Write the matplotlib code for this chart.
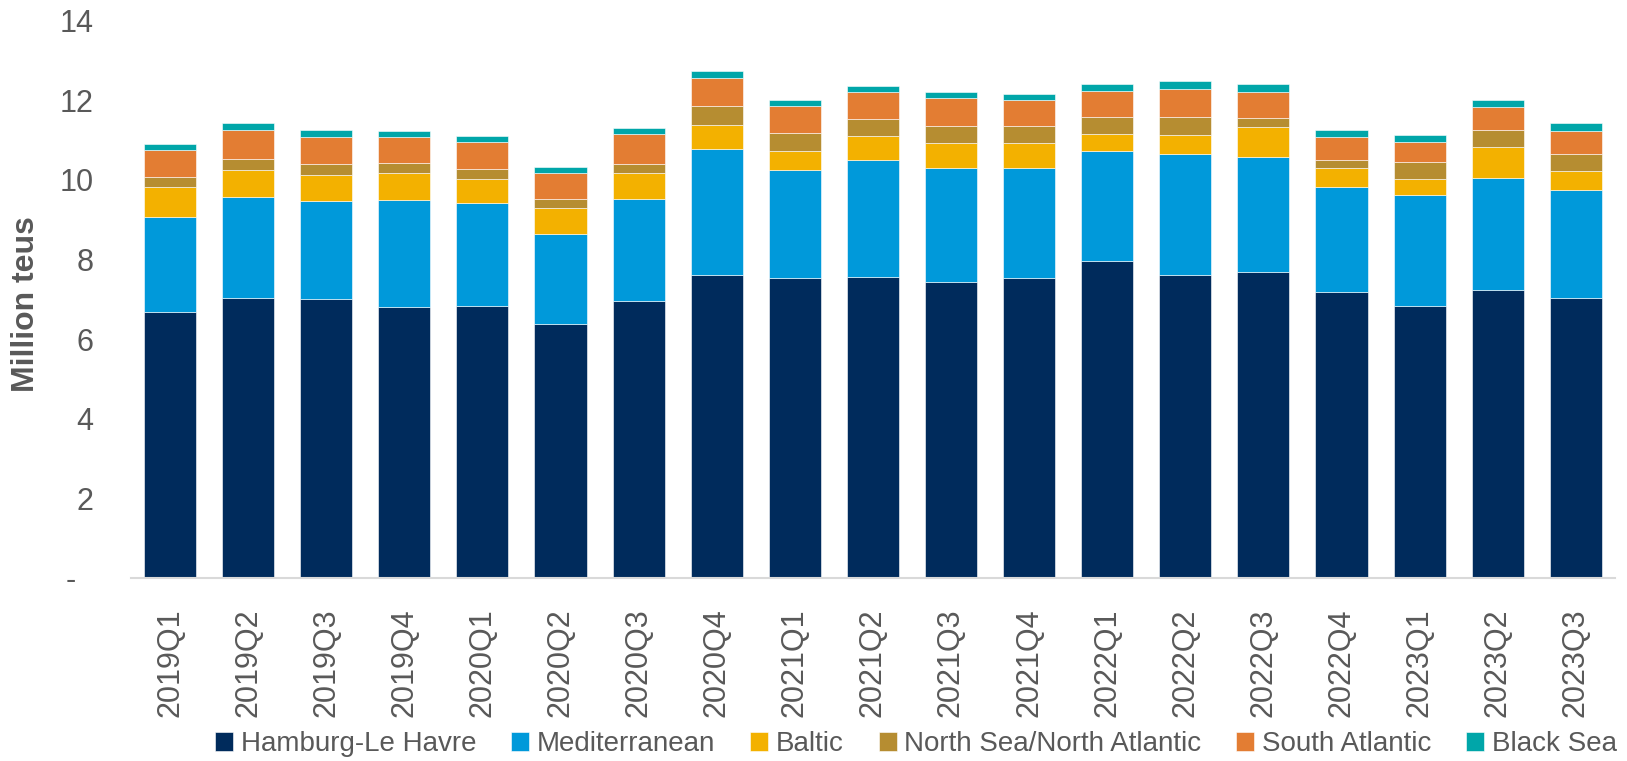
import numpy as np
import matplotlib
matplotlib.use("Agg")
import matplotlib.pyplot as plt

quarters = ["2019Q1", "2019Q2", "2019Q3", "2019Q4", "2020Q1", "2020Q2", "2020Q3", "2020Q4",
            "2021Q1", "2021Q2", "2021Q3", "2021Q4", "2022Q1", "2022Q2", "2022Q3", "2022Q4",
            "2023Q1", "2023Q2", "2023Q3"]

# million TEU per range
hamburg_le_havre = [6.69, 7.04, 7.00, 6.80, 6.83, 6.37, 6.96, 7.60, 7.53, 7.57,
                    7.43, 7.53, 7.96, 7.60, 7.68, 7.18, 6.83, 7.23, 7.04]
mediterranean = [2.39, 2.54, 2.48, 2.69, 2.58, 2.27, 2.56, 3.17, 2.73, 2.94,
                 2.88, 2.78, 2.78, 3.06, 2.89, 2.64, 2.78, 2.82, 2.72]
baltic = [0.74, 0.68, 0.65, 0.68, 0.61, 0.65, 0.65, 0.62, 0.47, 0.60,
          0.61, 0.61, 0.42, 0.46, 0.75, 0.48, 0.41, 0.77, 0.47]
north_sea = [0.25, 0.26, 0.26, 0.25, 0.25, 0.23, 0.24, 0.46, 0.44, 0.43,
             0.43, 0.43, 0.41, 0.45, 0.23, 0.19, 0.42, 0.43, 0.43]
south_atlantic = [0.68, 0.73, 0.69, 0.66, 0.68, 0.65, 0.74, 0.72, 0.69, 0.66,
                  0.70, 0.66, 0.67, 0.71, 0.65, 0.60, 0.51, 0.58, 0.56]
black_sea = [0.15, 0.18, 0.18, 0.15, 0.16, 0.15, 0.16, 0.16, 0.14, 0.15,
             0.17, 0.14, 0.16, 0.20, 0.21, 0.17, 0.18, 0.18, 0.20]

series = [
    ("Hamburg-Le Havre", hamburg_le_havre, "#002b5c"),
    ("Mediterranean", mediterranean, "#0099da"),
    ("Baltic", baltic, "#f3b100"),
    ("North Sea/North Atlantic", north_sea, "#b68d31"),
    ("South Atlantic", south_atlantic, "#e37d33"),
    ("Black Sea", black_sea, "#00a6a9"),
]

grey = "#595959"
font = ["Liberation Sans", "DejaVu Sans"]

fig = plt.figure(figsize=(16.27, 7.61), dpi=100)
ax = fig.add_axes([0.0805, 0.2405, 0.912, 0.7322])

x = np.arange(len(quarters))
bottom = np.zeros(len(quarters))
for name, vals, col in series:
    ax.bar(x, vals, 0.667, bottom=bottom, color=col, label=name,
           edgecolor="#ffffff", linewidth=0.4)
    bottom += np.array(vals)

ax.set_xlim(-0.5, 18.5)
ax.set_ylim(0, 14)
ax.set_xticks(x)
ax.set_xticklabels(quarters, rotation=90, family=font, fontsize=22, color=grey)
ax.set_yticks(range(0, 15, 2))
ax.set_yticklabels(["-  "] + [str(v) for v in range(2, 15, 2)],
                   family=font, fontsize=22, color=grey)
ax.tick_params(axis="both", length=0)
ax.tick_params(axis="x", pad=22)
ax.tick_params(axis="y", pad=27)

for s in ["top", "right", "left"]:
    ax.spines[s].set_visible(False)
ax.spines["bottom"].set_color("#d9d9d9")
ax.spines["bottom"].set_linewidth(1.5)

fig.text(26 / 1627, 1 - 304 / 761, "Million teus", rotation=90, ha="center", va="center",
         family=font, fontsize=23, fontweight="bold", color=grey)

fig.legend(loc="center", bbox_to_anchor=(0.563, 0.022), ncol=6, frameon=False,
           prop={"family": font, "size": 20}, labelcolor=grey,
           handlelength=0.65, handleheight=0.65, handletextpad=0.27, columnspacing=1.26)

plt.savefig("out.png", dpi=100)
